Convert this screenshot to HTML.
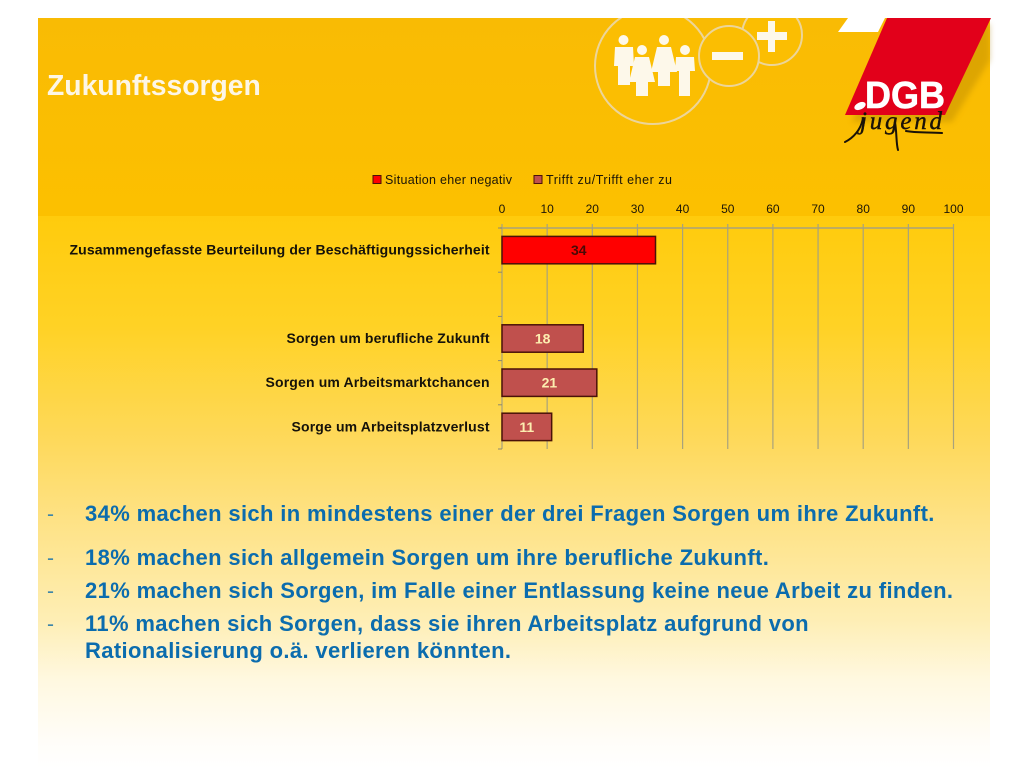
<!DOCTYPE html>
<html lang="de">
<head>
<meta charset="utf-8">
<title>Zukunftssorgen</title>
<style>
html,body{margin:0;padding:0;background:#fff;}
#slide{position:relative;width:1024px;height:768px;overflow:hidden;background:#fff;font-family:"Liberation Sans",sans-serif;}
#panel-top{position:absolute;left:38px;top:18px;width:952px;height:198px;background:linear-gradient(180deg,#f9bb04 0%,#fcc000 100%);}
#panel-bottom{position:absolute;left:38px;top:216px;width:952px;height:552px;background:linear-gradient(180deg,#ffcb0c 0%,#ffd225 20%,#fed95c 41%,#fee285 55%,#feeeb4 73%,#fff8e0 84%,#fffdf8 95%,#ffffff 100%);}
svg{position:absolute;left:0;top:0;}
#title{position:absolute;left:47px;top:69px;font-size:28.3px;font-weight:bold;color:#fdf6e6;line-height:32px;white-space:nowrap;}
.line{position:absolute;font-size:22px;letter-spacing:.36px;font-weight:bold;color:#0b6cae;line-height:27px;white-space:nowrap;}
.dash{position:absolute;left:47px;font-size:21px;color:#3f86a8;line-height:27px;margin-top:1px;}
</style>
</head>
<body>
<div id="slide">
  <div id="panel-top"></div>
  <div id="panel-bottom"></div>

  <svg width="1024" height="768" viewBox="0 0 1024 768">
    <defs>
      <clipPath id="topclip"><rect x="38" y="18" width="960" height="200"/></clipPath>
      <filter id="soft" x="-20%" y="-20%" width="140%" height="140%"><feGaussianBlur stdDeviation="3"/></filter>
    </defs>
    <g clip-path="url(#topclip)">
      <circle cx="653" cy="66" r="58" fill="#fbbe02" stroke="#ecd59a" stroke-width="2"/>
      <circle cx="772" cy="35" r="30" fill="#fbbe02" stroke="#ecd59a" stroke-width="2"/>
      <circle cx="729" cy="56" r="30" fill="#fbbe02" stroke="#ecd59a" stroke-width="2"/>
      <g fill="#fdf8ea">
        <circle cx="623.5" cy="40" r="5"/>
        <path d="M615 47h18l1 19h-4v19h-12V66h-4z"/>
        <circle cx="642" cy="50" r="5"/>
        <path d="M635 57h14l6 25h-7v14h-12V82h-7z"/>
        <circle cx="664" cy="40" r="5"/>
        <path d="M657 47h14l6 25h-7v14h-12V72h-7z"/>
        <circle cx="685" cy="50" r="5"/>
        <path d="M676 57h18l1 14h-5v25h-11V71h-4z"/>
      </g>
      <rect x="712" y="52" width="31" height="8" fill="#fdf8ea"/>
      <path d="M768 21h7v11h12v8h-12v12h-7V40h-11v-8h11z" fill="#fdf8ea"/>
      <polygon points="848,18 885,18 878,32 838,32" fill="#ffffff"/>
    </g>
    <polygon points="895,24 990,24 990,60 952,122 852,122" fill="#a87c00" opacity=".35" filter="url(#soft)"/>
    <polygon points="887,18 991,18 945,115 845,115" fill="#e2001a"/>
    <text x="865" y="108" font-family="Liberation Sans" font-size="38" font-weight="bold" fill="#ffffff" stroke="#ffffff" stroke-width=".6" textLength="80" lengthAdjust="spacingAndGlyphs">DGB</text>
    <ellipse cx="860" cy="106" rx="6" ry="3.5" fill="#fff" transform="rotate(-25 860 106)"/>
    <text x="860" y="129" font-family="Liberation Serif" font-size="25" font-style="italic" fill="#1a1208" stroke="#1a1208" stroke-width=".4" textLength="82" lengthAdjust="spacing">jugend</text>
    <path d="M863 118C861 130 853 138 845 142M895 122C897 135 896 143 898 150M906 131C916 133 930 132 942 133" fill="none" stroke="#1a1208" stroke-width="2" stroke-linecap="round"/>
  </svg>

  <div id="title">Zukunftssorgen</div>

  <svg id="chart" width="1024" height="768" viewBox="0 0 1024 768"></svg>

  <div class="dash" style="top:500px">-</div>
  <div class="line" style="left:85px;top:500px">34% machen sich in mindestens einer der drei Fragen Sorgen um ihre Zukunft.</div>
  <div class="dash" style="top:544px">-</div>
  <div class="line" style="left:85px;top:544px">18% machen sich allgemein Sorgen um ihre berufliche Zukunft.</div>
  <div class="dash" style="top:577px">-</div>
  <div class="line" style="left:85px;top:577px">21% machen sich Sorgen, im Falle einer Entlassung keine neue Arbeit zu finden.</div>
  <div class="dash" style="top:610px">-</div>
  <div class="line" style="left:85px;top:610px">11% machen sich Sorgen, dass sie ihren Arbeitsplatz aufgrund von</div>
  <div class="line" style="left:85px;top:637px">Rationalisierung o.ä. verlieren könnten.</div>
</div>

<script>
const categories = ["Zusammengefasste Beurteilung der Beschäftigungssicherheit", "", "Sorgen um berufliche Zukunft", "Sorgen um Arbeitsmarktchancen", "Sorge um Arbeitsplatzverlust"];
const seriesNames = ["Situation eher negativ", "Trifft zu/Trifft eher zu"];
const negativeValues = [34, null, null, null, null];
const agreeValues = [null, null, 18, 21, 11];
const tickLabels = [0, 10, 20, 30, 40, 50, 60, 70, 80, 90, 100];

const svg = document.getElementById('chart');
const NS = 'http://www.w3.org/2000/svg';
const plot = {left: 502, right: 953.5, top: 228, bottom: 449};
const axisMax = tickLabels[tickLabels.length - 1];
function xScale(v) { return plot.left + (plot.right - plot.left) * v / axisMax; }
function bandTop(i) { return plot.top + (plot.bottom - plot.top) * i / categories.length; }
function bandH() { return (plot.bottom - plot.top) / categories.length; }
function make(tag, attrs, text) {
  const el = document.createElementNS(NS, tag);
  for (const k in attrs) el.setAttribute(k, attrs[k]);
  if (text !== undefined) el.textContent = text;
  svg.appendChild(el);
  return el;
}
const SMALL = '"Liberation Sans", sans-serif';

// gridlines and x ticks
tickLabels.forEach(function (t) {
  const x = xScale(t);
  const grid = make('line', {x1: x, x2: x, y1: plot.top - 4, y2: plot.bottom, stroke: '#a8a27c', 'stroke-width': 1.2});
  
  
  const label = make('text', {x: x, y: 213, 'text-anchor': 'middle', 'font-family': SMALL, 'font-size': 12, fill: '#1c1608'}, String(t));
  
  
});
const topAxis = make('line', {x1: plot.left - 2, x2: plot.right, y1: plot.top, y2: plot.top, stroke: '#a8a27c', 'stroke-width': 1.4});



// category ticks
for (let i = 0; i <= categories.length; i++) {
  const y = bandTop(i);
  const tick = make('line', {x1: plot.left - 4, x2: plot.left, y1: y, y2: y, stroke: '#8f8a6c', 'stroke-width': 1});
  
  
}

// category labels
const labelWidths = [420, 203, 224, 198];
let labelIndex = 0;
categories.forEach(function (c, i) {
  if (!c) return;
  const label = make('text', {x: 489.5, y: bandTop(i) + bandH() / 2 + 4.5, 'text-anchor': 'end', 'font-family': SMALL, 'font-size': 14, 'font-weight': 'bold', fill: '#15120a', textLength: labelWidths[labelIndex], lengthAdjust: 'spacing'}, c);
  labelIndex++;
  
  
});

// bars
function drawBars(values, fill, stroke, textFill, name) {
  values.forEach(function (v, i) {
    if (v === null) return;
    const h = bandH() * 0.62;
    const y = bandTop(i) + (bandH() - h) / 2;
    const bar = make('rect', {x: plot.left, y: y, width: xScale(v) - plot.left, height: h, fill: fill, stroke: stroke, 'stroke-width': 1.5});
    
    
    const lab = make('text', {x: plot.left + (xScale(v) - plot.left) / 2, y: y + h / 2 + 5, 'text-anchor': 'middle', 'font-family': SMALL, 'font-size': 14, 'font-weight': 'bold', fill: textFill}, String(v));
    
    
  });
}
drawBars(negativeValues, '#ff0000', '#4a1208', '#4a0a06', 'negative');
drawBars(agreeValues, '#c0504d', '#4a1208', '#fdeeb0', 'agree');

// legend
const legendX = [373, 534];
const legendFill = ['#ff0000', '#c0504d'];
const legendW = [127, 126];
seriesNames.forEach(function (s, i) {
  const sw = make('rect', {x: legendX[i], y: 175.5, width: 8, height: 8, fill: legendFill[i], stroke: '#4a1208', 'stroke-width': 1});
  
  
  const t = make('text', {x: legendX[i] + 12, y: 184, 'font-family': SMALL, 'font-size': 12.5, fill: '#1c1608', textLength: legendW[i], lengthAdjust: 'spacing'}, s);
  
  
});
</script>
</body>
</html>
